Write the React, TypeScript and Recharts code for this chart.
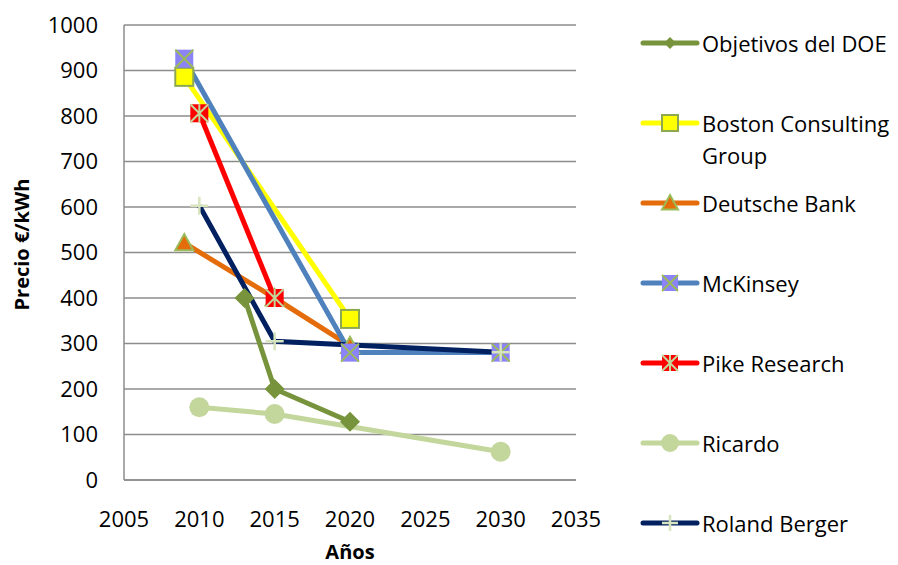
import React from "react";
import { CartesianGrid, Line, LineChart, XAxis, YAxis } from "recharts";

// Precio €/kWh por fuente y año
const doeYears = [2013, 2015, 2020];
const doeValues = [400, 200, 128];
const bcgYears = [2009, 2020];
const bcgValues = [886, 354];
const dbYears = [2009, 2015, 2020];
const dbValues = [521, 400, 295];
const mckYears = [2009, 2020, 2030];
const mckValues = [926, 280, 280];
const pikeYears = [2010, 2015];
const pikeValues = [806, 400];
const ricardoYears = [2010, 2015, 2030];
const ricardoValues = [160, 145, 62];
const rolandYears = [2010, 2015, 2030];
const rolandValues = [603, 305, 281];

const xTicks = [2005, 2010, 2015, 2020, 2025, 2030, 2035];
const yTicks = [0, 100, 200, 300, 400, 500, 600, 700, 800, 900, 1000];

const FONT = "'Open Sans', 'Noto Sans', sans-serif";
const MARK_GREEN = "#9BBB59";

type Shape = "diamond" | "square" | "triangle" | "xsquare" | "star" | "circle" | "plus";

const toPoints = (years: number[], values: number[]) =>
  years.map((x, i) => ({ x, y: values[i] }));

const series: {
  name: string;
  color: string;
  fill: string;
  shape: Shape;
  data: { x: number; y: number }[];
}[] = [
  { name: "Objetivos del DOE", color: "#77933C", fill: "#77933C", shape: "diamond", data: toPoints(doeYears, doeValues) },
  { name: "Boston Consulting Group", color: "#FFFF00", fill: "#FFFF00", shape: "square", data: toPoints(bcgYears, bcgValues) },
  { name: "Deutsche Bank", color: "#E46C0A", fill: "#E46C0A", shape: "triangle", data: toPoints(dbYears, dbValues) },
  { name: "McKinsey", color: "#4F81BD", fill: "#8B83F7", shape: "xsquare", data: toPoints(mckYears, mckValues) },
  { name: "Pike Research", color: "#FF0000", fill: "#FF0000", shape: "star", data: toPoints(pikeYears, pikeValues) },
  { name: "Ricardo", color: "#C3D69B", fill: "#C3D69B", shape: "circle", data: toPoints(ricardoYears, ricardoValues) },
  { name: "Roland Berger", color: "#002060", fill: "none", shape: "plus", data: toPoints(rolandYears, rolandValues) },
];

function Marker({ cx, cy, shape, fill, s = 9 }: { cx: number; cy: number; shape: Shape; fill: string; s?: number }) {
  switch (shape) {
    case "diamond":
      return <path d={`M${cx},${cy - s}L${cx + s},${cy}L${cx},${cy + s}L${cx - s},${cy}Z`} fill={fill} />;
    case "square":
      return <rect x={cx - s} y={cy - s} width={2 * s} height={2 * s} fill={fill} stroke="#8EA852" strokeWidth={2} />;
    case "triangle":
      return (
        <path
          d={`M${cx},${cy - s}L${cx + s},${cy + s * 0.8}L${cx - s},${cy + s * 0.8}Z`}
          fill={fill}
          stroke={MARK_GREEN}
          strokeWidth={2}
        />
      );
    case "xsquare":
      return (
        <g>
          <rect x={cx - s} y={cy - s} width={2 * s} height={2 * s} fill={fill} />
          <path d={`M${cx - s},${cy - s}L${cx + s},${cy + s}M${cx + s},${cy - s}L${cx - s},${cy + s}`} stroke={MARK_GREEN} strokeWidth={2} />
        </g>
      );
    case "star":
      return (
        <g>
          <rect x={cx - s} y={cy - s} width={2 * s} height={2 * s} fill={fill} />
          <path
            d={`M${cx - s},${cy - s}L${cx + s},${cy + s}M${cx + s},${cy - s}L${cx - s},${cy + s}M${cx},${cy - s}L${cx},${cy + s}`}
            stroke="#C3D69B"
            strokeWidth={2}
          />
        </g>
      );
    case "circle":
      return <circle cx={cx} cy={cy} r={s + 1} fill={fill} />;
    case "plus":
      return (
        <path
          d={`M${cx - s},${cy}L${cx + s},${cy}M${cx},${cy - s}L${cx},${cy + s}`}
          stroke="#D7E4BD"
          strokeWidth={2.5}
        />
      );
  }
  return null;
}

function LegendIcon({ color, fill, shape }: { color: string; fill: string; shape: Shape }) {
  return (
    <svg width={62} height={32} style={{ flex: "none" }}>
      <line x1={3} y1={16} x2={57} y2={16} stroke={color} strokeWidth={5} strokeLinecap="round" />
      <Marker cx={30} cy={16} shape={shape} fill={fill} s={shape === "diamond" ? 6 : 8} />
    </svg>
  );
}

export default function App() {
  return (
    <div style={{ position: "absolute", left: 0, top: 0, width: 898, height: 565, background: "#fff", fontFamily: FONT }}>
      <LineChart width={640} height={565} margin={{ top: 25, right: 64, bottom: 0, left: 0 }}>
        <CartesianGrid horizontal vertical={false} stroke="#8C8C8C" strokeWidth={1.5} />
        <XAxis
          dataKey="x"
          type="number"
          domain={[2005, 2035]}
          ticks={xTicks}
          height={85}
          tickLine={false}
          tickSize={0}
          tickMargin={31}
          axisLine={{ stroke: "#8C8C8C", strokeWidth: 1.5 }}
          tick={{ fontSize: 22, fill: "#000", fontFamily: FONT }}
          label={{
            content: ({ viewBox }: any) => (
              <text
                x={viewBox.x + viewBox.width / 2}
                y={viewBox.y + 79}
                textAnchor="middle"
                fontSize={20}
                fontWeight="bold"
                fontFamily={FONT}
                fill="#000"
              >
                Años
              </text>
            ),
          }}
        />
        <YAxis
          type="number"
          domain={[0, 1000]}
          ticks={yTicks}
          width={124}
          tickLine={false}
          tickSize={0}
          tickMargin={26}
          axisLine={{ stroke: "#8C8C8C", strokeWidth: 1.5 }}
          tick={{ fontSize: 22, fill: "#000", fontFamily: FONT }}
          label={{
            content: ({ viewBox }: any) => {
              const cx = 29;
              const cy = viewBox.y + viewBox.height / 2 - 8;
              return (
                <text
                  x={cx}
                  y={cy}
                  transform={`rotate(-90, ${cx}, ${cy})`}
                  textAnchor="middle"
                  fontSize={20}
                  fontWeight="bold"
                  fontFamily={FONT}
                  fill="#000"
                >
                  Precio €/kWh
                </text>
              );
            },
          }}
        />
        {series.map((s) => (
          <Line
            key={s.name}
            data={s.data}
            dataKey="y"
            name={s.name}
            type="linear"
            stroke={s.color}
            strokeWidth={5}
            isAnimationActive={false}
            activeDot={false}
            dot={(p: any) => (
              <Marker
                key={`${s.name}-${p.index}`}
                cx={p.cx}
                cy={p.cy}
                shape={s.shape}
                fill={s.fill}
                s={s.shape === "diamond" ? 10 : 9}
              />
            )}
          />
        ))}
      </LineChart>
      <div style={{ position: "absolute", left: 640, top: 27, width: 258 }}>
        {series.map((s) => (
          <div key={s.name} style={{ display: "flex", alignItems: "flex-start", height: 80 }}>
            <LegendIcon color={s.color} fill={s.fill} shape={s.shape} />
            <div style={{ fontSize: 22, lineHeight: "32px", color: "#000", whiteSpace: "nowrap" }}>
              {s.name === "Boston Consulting Group" ? (
                <>
                  Boston Consulting
                  <br />
                  Group
                </>
              ) : (
                s.name
              )}
            </div>
          </div>
        ))}
      </div>
    </div>
  );
}
